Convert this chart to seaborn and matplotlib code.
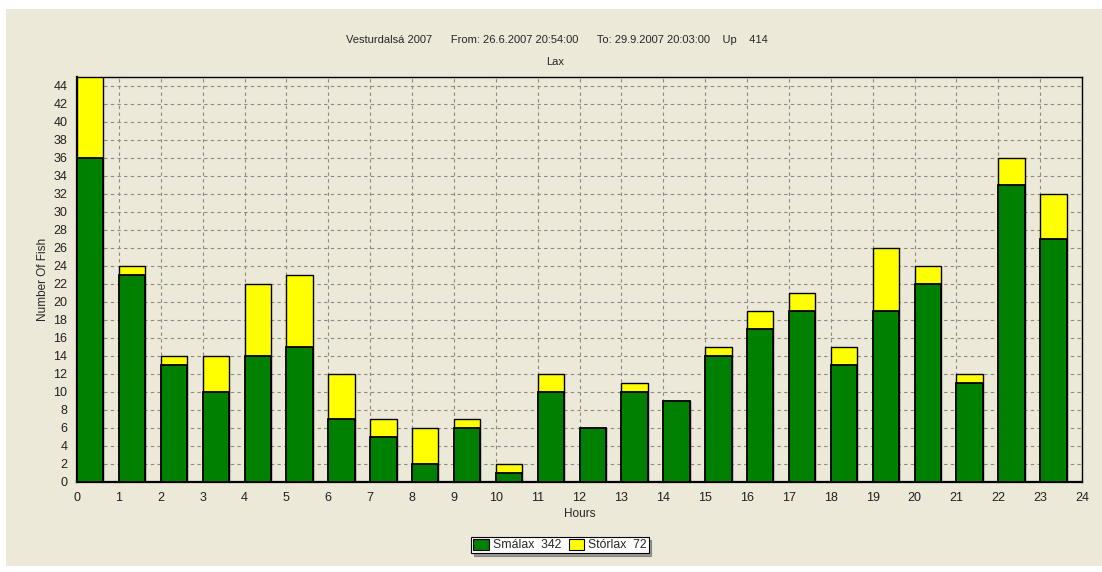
import matplotlib
matplotlib.use("Agg")
import matplotlib.pyplot as plt
from matplotlib.patches import Rectangle
from matplotlib.ticker import MultipleLocator
import pandas as pd
import seaborn as sns

# hourly fish counts, Vesturdalsá 2007
hours = list(range(24))
smalax = [36, 23, 13, 10, 14, 15, 7, 5, 2, 6, 1, 10, 6, 10, 9, 14, 17, 19, 13, 19, 22, 11, 33, 27]
storlax = [9, 1, 1, 4, 8, 8, 5, 2, 4, 1, 1, 2, 0, 1, 0, 1, 2, 2, 2, 7, 2, 1, 3, 5]
series_names = ["Smálax", "Stórlax"]
title_text = "Vesturdalsá 2007      From: 26.6.2007 20:54:00      To: 29.9.2007 20:03:00    Up    414"
subtitle_text = "Lax"

BAR_W = 0.63
BG = "#ECE9D8"
GREEN = "#008000"
YELLOW = "#FFFF00"

df = pd.DataFrame({"hour": hours, "small": smalax, "large": storlax})
df["total"] = df["small"] + df["large"]
# bars start at the hour mark, so place centre half a bar to the right
df["xpos"] = df["hour"] + BAR_W / 2

sns.set_style("white")
plt.rcParams["font.family"] = ["Liberation Sans", "DejaVu Sans"]
plt.rcParams["font.size"] = 8

fig = plt.figure(figsize=(11.02, 5.72), dpi=100, facecolor="white")
fig.patches.append(Rectangle((6 / 1102, 6 / 572), 1 - 6 / 1102, 1 - 15 / 572,
                             transform=fig.transFigure, facecolor=BG,
                             edgecolor="none", zorder=-10))
ax = fig.add_axes([77 / 1102, 1 - 482 / 572, (1082 - 77) / 1102, (482 - 77) / 572])
ax.set_facecolor(BG)

sns.barplot(data=df, x="xpos", y="total", native_scale=True, width=BAR_W,
            color=YELLOW, saturation=1, edgecolor="black", linewidth=1.0,
            errorbar=None, ax=ax, zorder=3)
sns.barplot(data=df, x="xpos", y="small", native_scale=True, width=BAR_W,
            color=GREEN, saturation=1, edgecolor="black", linewidth=1.3,
            errorbar=None, ax=ax, zorder=4)

ax.set_xlim(0, 24)
ax.set_ylim(0, 45)
ax.xaxis.set_major_locator(MultipleLocator(1))
ax.xaxis.set_minor_locator(MultipleLocator(0.25))
ax.yaxis.set_major_locator(MultipleLocator(2))
ax.yaxis.set_minor_locator(MultipleLocator(1))
ax.tick_params(axis="both", which="major", direction="out", length=4, width=0.8,
               color="#404040", labelsize=9, pad=3, labelcolor="#202020")
ax.tick_params(axis="both", which="minor", direction="in", length=2.5, width=0.6,
               color="#808080")
ax.grid(True, which="major", color="#8a8a8a", linestyle=(0, (3, 3)), linewidth=0.8, zorder=0)
ax.set_axisbelow(True)
for s in ax.spines.values():
    s.set_color("black")
    s.set_linewidth(1.0)
ax.spines["left"].set_linewidth(1.6)
ax.spines["bottom"].set_linewidth(1.6)

ax.set_xlabel("Hours", fontsize=8.5, labelpad=3)
ax.set_ylabel("Number Of Fish", fontsize=8.5, labelpad=3)

fig.text(0.505, 1 - 40 / 572, title_text, ha="center", va="center", fontsize=8)
fig.text(0.504, 1 - 62 / 572, subtitle_text, ha="center", va="center", fontsize=8)

legend_labels = [f"{series_names[0]}  {sum(smalax)}", f"{series_names[1]}  {sum(storlax)}"]
handles = [Rectangle((0, 0), 1, 1, facecolor=GREEN, edgecolor="black", linewidth=0.8),
           Rectangle((0, 0), 1, 1, facecolor=YELLOW, edgecolor="black", linewidth=0.8)]
leg = fig.legend(handles, legend_labels, loc="center", bbox_to_anchor=(560 / 1102, 1 - 545 / 572),
                 ncol=2, frameon=True, fancybox=False, shadow=True, fontsize=8.8,
                 handlelength=1.3, handleheight=1.0, handletextpad=0.3, columnspacing=0.6,
                 borderpad=0.15, borderaxespad=0)
leg.get_frame().set_edgecolor("black")
leg.get_frame().set_linewidth(0.8)
leg.get_frame().set_facecolor("white")

fig.savefig("out.png", dpi=100, facecolor=fig.get_facecolor())
